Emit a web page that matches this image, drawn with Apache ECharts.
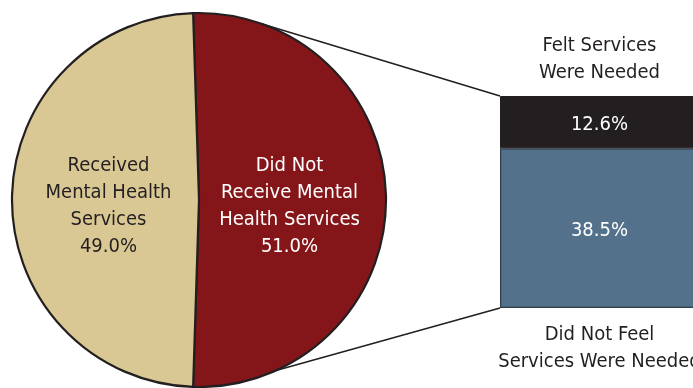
<!DOCTYPE html>
<html>
<head>
<meta charset="utf-8">
<script src="https://cdn.jsdelivr.net/npm/echarts@6/dist/echarts.min.js"></script>
<style>
html, body { margin: 0; padding: 0; background: #fff; }
#chart { width: 693px; height: 388px; }
</style>
</head>
<body>
<div id="chart"></div>
<script>
// Mental health service use, split and then broken down for those who did not receive services
const pieNames = ['Did Not\nReceive Mental\nHealth Services', 'Received\nMental Health\nServices'];
const pieValues = [51.0, 49.0];

const barTopName = 'Felt Services\nWere Needed';
const barBottomName = 'Did Not Feel\nServices Were Needed';
const feltNeeded = [12.6];
const notFeltNeeded = [38.5];

// Layout
const FONT = "'DejaVu Sans Condensed', 'Liberation Sans Narrow', 'Arial Narrow', sans-serif";
const INK = '#231f20';
const PIE_CX = 199, PIE_CY = 200, PIE_R = 187;
const GRID_LEFT = 500, GRID_TOP = 96, GRID_BOTTOM = 80;

const chart = echarts.init(document.getElementById('chart'), null, { renderer: 'canvas' });

const pieColors = ['#84161a', '#d9c794'];
const pieLabelColors = ['#ffffff', INK];
const pieLabelShift = [-3, 3];
const barTotal = feltNeeded[0] + notFeltNeeded[0];

chart.setOption({
  animation: false,
  backgroundColor: '#ffffff',
  grid: { left: GRID_LEFT, right: -6, top: GRID_TOP, bottom: GRID_BOTTOM, outerBoundsMode: 'none', containLabel: false },
  xAxis: [
    {
      type: 'category', position: 'bottom', data: [barBottomName],
      axisLine: { show: false }, axisTick: { show: false },
      axisLabel: { interval: 0, margin: 13, color: INK, fontFamily: FONT, fontSize: 20, lineHeight: 27 }
    },
    {
      type: 'category', position: 'top', data: [barTopName],
      axisLine: { show: false }, axisTick: { show: false },
      axisLabel: { interval: 0, margin: 10, color: INK, fontFamily: FONT, fontSize: 20, lineHeight: 27 }
    }
  ],
  yAxis: { type: 'value', min: 0, max: barTotal, show: false, splitLine: { show: false } },
  series: [
    {
      type: 'pie',
      center: [PIE_CX, PIE_CY],
      radius: PIE_R,
      startAngle: 90 + (pieValues[0] - 50) / 100 * 180,
      clockwise: true,
      silent: true,
      itemStyle: { borderColor: INK, borderWidth: 2.2 },
      label: {
        position: 'inside',
        fontFamily: FONT, fontSize: 20, lineHeight: 27,
        formatter: p => p.name + '\n' + p.value.toFixed(1) + '%'
      },
      labelLayout: p => ({ dx: pieLabelShift[p.dataIndex], dy: 3 }),
      labelLine: { show: false },
      data: pieNames.map((n, i) => ({
        name: n, value: pieValues[i],
        itemStyle: { color: pieColors[i] },
        label: { color: pieLabelColors[i] }
      }))
    },
    {
      type: 'bar', stack: 'split', xAxisIndex: 0, barWidth: '100%', silent: true,
      data: notFeltNeeded,
      itemStyle: { color: '#53718a', borderColor: '#2f3c48', borderWidth: 1.2 },
      label: { show: true, position: 'inside', offset: [0, 3], color: '#fff', fontFamily: FONT, fontSize: 20,
        formatter: p => p.value.toFixed(1) + '%' }
    },
    {
      type: 'bar', stack: 'split', xAxisIndex: 0, barWidth: '100%', silent: true,
      data: feltNeeded,
      itemStyle: { color: INK, borderColor: INK, borderWidth: 1 },
      label: { show: true, position: 'inside', offset: [0, 3], color: '#fff', fontFamily: FONT, fontSize: 20,
        formatter: p => p.value.toFixed(1) + '%' }
    }
  ]
});

// Connector lines from the red slice to the corners of the breakdown bar
const barTopY = chart.convertToPixel({ yAxisIndex: 0 }, barTotal);
const barBottomY = chart.convertToPixel({ yAxisIndex: 0 }, 0);
function piePoint(deg) {
  const a = deg * Math.PI / 180;
  return [PIE_CX + PIE_R * Math.cos(a), PIE_CY - PIE_R * Math.sin(a)];
}
const upper = piePoint(70);
const lower = piePoint(-66);
chart.setOption({
  graphic: [
    { type: 'line', silent: true, z: 10,
      shape: { x1: upper[0], y1: upper[1], x2: GRID_LEFT, y2: barTopY },
      style: { stroke: INK, lineWidth: 1.6 } },
    { type: 'line', silent: true, z: 10,
      shape: { x1: lower[0], y1: lower[1], x2: GRID_LEFT, y2: barBottomY },
      style: { stroke: INK, lineWidth: 1.6 } }
  ]
});
</script>
</body>
</html>
